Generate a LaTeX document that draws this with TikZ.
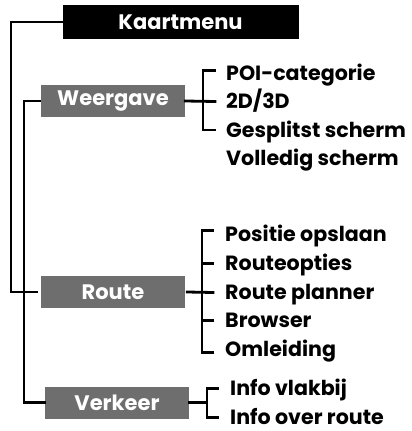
\documentclass[tikz,border=0pt]{standalone}
\usepackage{fontspec}
\setmainfont{Poppins}
\usetikzlibrary{calc}
\definecolor{boxgray}{RGB}{110,110,110}
\begin{document}
\begin{tikzpicture}[x=1pt,y=-1pt,
  line/.style={line width=2.8pt,line cap=rect,line join=miter},
  fnt/.style={font=\fontsize{21}{23}\selectfont\bfseries},
  ifnt/.style={font=\fontsize{20.6}{23}\selectfont\bfseries},
  head/.style={fnt,fill=black,text=white,minimum width=236pt,minimum height=34pt,inner sep=0pt},
  cat/.style={fnt,fill=boxgray,text=white,minimum width=144pt,minimum height=32pt,inner sep=0pt},
  item/.style={ifnt,anchor=west,inner sep=0pt,text height=14.5pt,text depth=0pt}]
\useasboundingbox (0,0) rectangle (412,431);
\node[head] (kaart) at (181,22) {\hspace*{-1pt}Kaartmenu};
\node[cat] (weer) at (113,101) {Weergave};
\node[cat] (route) at (113,292) {Route};
\node[cat] (verk) at (117,402.5) {Verkeer};
% Weergave items
\node[item] (w1) at (226,73.5) {POI-categorie};
\node[item] (w2) at (226,101.5) {2D/3D};
\node[item] (w3) at (226,130) {Gesplitst scherm};
\node[item] (w4) at (226,158.5) {Volledig scherm};
% Route items
\node[item] (r1) at (225,234.5) {Positie opslaan};
\node[item] (r2) at (225,263.5) {Routeopties};
\node[item] (r3) at (225,292.5) {Route planner};
\node[item] (r4) at (225,320.5) {Browser};
\node[item] (r5) at (225,349.5) {Omleiding};
% Verkeer items
\node[item] (v1) at (230,388.5) {Info vlakbij};
\node[item] (v2) at (230,417.5) {Info over route};
\coordinate (outer) at (11,0);
\coordinate (inner) at (24,0);
\coordinate (wb) at (203,0);
\coordinate (rb) at (202,0);
\coordinate (vb) at (207,0);
% tree
\draw[line] (kaart.west) -- (kaart.west -| outer) |- ([xshift=-4pt]route.west);
\draw[line] ([xshift=-1pt]weer.west) -- (weer.west -| inner) |- (verk.west);
% Weergave bracket
\draw[line] ([xshift=-11pt,yshift=3pt]w1.west) -| (wb |- w3.west) -- ([xshift=-11pt]w3.west);
\draw[line] (weer.east) -- ([xshift=-11pt]w2.west);
% Route bracket
\draw[line] ([xshift=-12pt,yshift=4pt]r1.west) -| ([yshift=-3pt]rb |- r5.west) -- ([xshift=-12pt,yshift=-3pt]r5.west);
\draw[line] ([xshift=-12pt]r2.west) -- (rb |- r2.west);
\draw[line] ([xshift=-12pt]r4.west) -- (rb |- r4.west);
\draw[line] ([xshift=2pt]route.east) -- ([xshift=-12pt]r3.west);
% Verkeer bracket
\draw[line] ([xshift=-12pt]v1.west) -| (vb |- v2.west) -- ([xshift=-12pt]v2.west);
\draw[line] (verk.east) -- (vb |- verk.east);
\end{tikzpicture}
\end{document}
